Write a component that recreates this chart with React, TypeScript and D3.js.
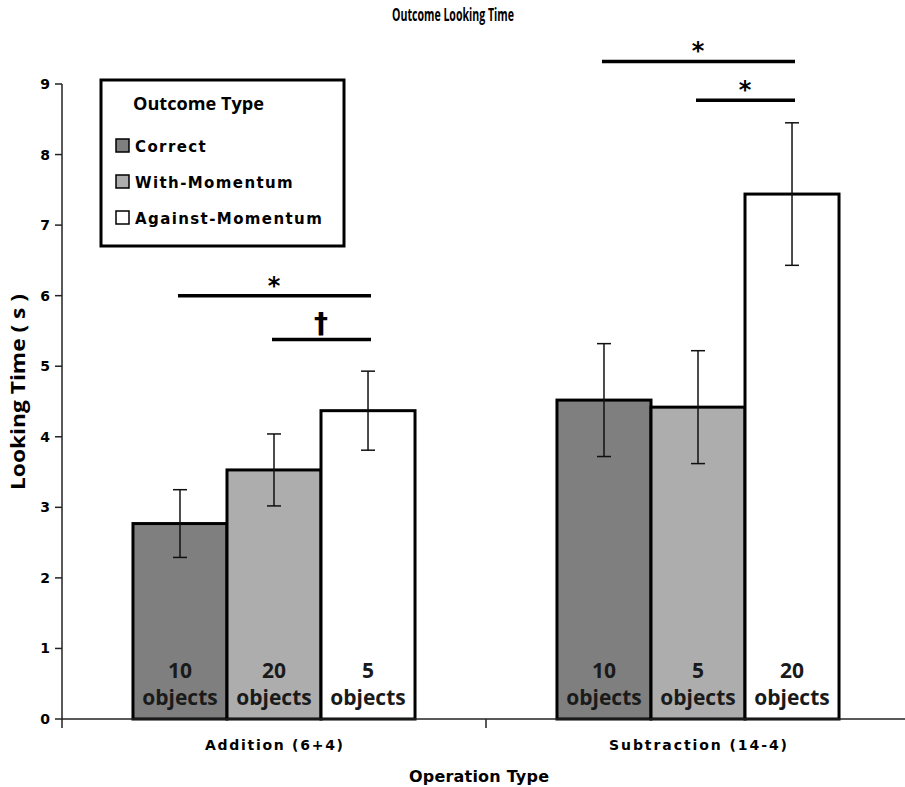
import { scaleBand, scaleLinear, range } from "d3";

const categories = ["Addition (6+4)", "Subtraction (14-4)"];
const outcomeTypes = ["Correct", "With-Momentum", "Against-Momentum"];

const correctMeans = [2.77, 4.52];
const correctErrors = [0.48, 0.8];
const withMeans = [3.53, 4.42];
const withErrors = [0.51, 0.8];
const againstMeans = [4.37, 7.44];
const againstErrors = [0.56, 1.01];

const correctObjects = ["10", "10"];
const withObjects = ["20", "5"];
const againstObjects = ["5", "20"];

const yTicks = [0, 1, 2, 3, 4, 5, 6, 7, 8, 9];

// significance brackets: category, from bar, to bar, height (s), mark
const sigCategory = [0, 0, 1, 1];
const sigFrom = [0, 1, 0, 1];
const sigTo = [2, 2, 2, 2];
const sigLevel = [6.0, 5.38, 9.32, 8.77];
const sigMark = ["*", "†", "*", "*"];

const fills = ["#7f7f7f", "#adadad", "#ffffff"];

const App = () => {
  const width = 905;
  const height = 787;
  const left = 62;
  const bottom = 719;
  const top = 84;

  const xGroup = scaleBand<string>().domain(categories).range([left, 910]);
  const xBar = scaleBand<string>()
    .domain(outcomeTypes)
    .range([0, xGroup.bandwidth()])
    .paddingOuter(0.755);
  const y = scaleLinear().domain([0, 9]).range([bottom, top]);

  const means = [correctMeans, withMeans, againstMeans];
  const errors = [correctErrors, withErrors, againstErrors];
  const objects = [correctObjects, withObjects, againstObjects];

  const bars = categories.flatMap((cat, ci) =>
    outcomeTypes.map((t, ti) => ({
      x: (xGroup(cat) as number) + (xBar(t) as number),
      w: xBar.bandwidth(),
      v: means[ti][ci],
      e: errors[ti][ci],
      n: objects[ti][ci],
      fill: fills[ti],
    }))
  );

  const barCenter = (ci: number, ti: number) =>
    (xGroup(categories[ci]) as number) +
    (xBar(outcomeTypes[ti]) as number) +
    xBar.bandwidth() / 2;

  const verdana = "'DejaVu Sans', Verdana, sans-serif";
  const myriad = "'Open Sans', 'Noto Sans', sans-serif";

  return (
    <svg width={width} height={height} style={{ display: "block", position: "absolute", left: 0, top: 0 }}>
      <rect width={width} height={height} fill="#fff" />
      <text
        x={453}
        y={21}
        textAnchor="middle"
        fontFamily={myriad}
        fontWeight="bold"
        fontSize={17}
        textLength={122}
        lengthAdjust="spacingAndGlyphs"
      >
        Outcome Looking Time
      </text>

      {/* bars */}
      {bars.map((b, i) => (
        <rect
          key={i}
          x={b.x}
          y={y(b.v)}
          width={b.w}
          height={bottom - y(b.v)}
          fill={b.fill}
          stroke="#000"
          strokeWidth={3}
        />
      ))}

      {/* object labels */}
      {bars.map((b, i) => (
        <text
          key={"n" + i}
          x={b.x + b.w / 2}
          y={678}
          fontFamily={myriad}
          fontWeight={700}
          fontSize={21}
          fill="#1a1a1a"
          textAnchor="middle"
        >
          <tspan x={b.x + b.w / 2}>{b.n}</tspan>
          <tspan x={b.x + b.w / 2} dy={27}>
            objects
          </tspan>
        </text>
      ))}

      {/* error bars */}
      {bars.map((b, i) => {
        const cx = b.x + b.w / 2;
        return (
          <g key={"e" + i} stroke="#111" strokeWidth={1.5}>
            <line x1={cx} x2={cx} y1={y(b.v + b.e)} y2={y(b.v - b.e)} />
            <line x1={cx - 7} x2={cx + 7} y1={y(b.v + b.e)} y2={y(b.v + b.e)} />
            <line x1={cx - 7} x2={cx + 7} y1={y(b.v - b.e)} y2={y(b.v - b.e)} />
          </g>
        );
      })}

      {/* axes */}
      <line x1={left} x2={left} y1={top} y2={bottom} stroke="#222" strokeWidth={1.5} />
      <line x1={left} x2={width} y1={bottom} y2={bottom} stroke="#222" strokeWidth={1.5} />
      {yTicks.map((t) => (
        <g key={t}>
          <line x1={left - 7} x2={left} y1={y(t)} y2={y(t)} stroke="#222" strokeWidth={1.5} />
          <text
            x={left - 12}
            y={y(t) + 5}
            textAnchor="end"
            fontFamily={verdana}
            fontWeight="bold"
            fontSize={14}
          >
            {t}
          </text>
        </g>
      ))}
      {range(categories.length + 1).map((i) => {
        const xx = i < categories.length ? (xGroup(categories[i]) as number) : 910;
        return <line key={i} x1={xx} x2={xx} y1={bottom} y2={bottom + 9} stroke="#222" strokeWidth={1.5} />;
      })}
      {categories.map((c, i) => (
        <text
          key={c}
          x={(xGroup(c) as number) + xGroup.bandwidth() / 2}
          y={750}
          textAnchor="middle"
          fontFamily={verdana}
          fontWeight="bold"
          fontSize={14}
          textLength={i === 0 ? 138 : 178}
          lengthAdjust="spacing"
        >
          {c}
        </text>
      ))}
      <text
        x={479}
        y={782}
        textAnchor="middle"
        fontFamily={verdana}
        fontWeight="bold"
        fontSize={16}
        textLength={140}
        lengthAdjust="spacing"
      >
        Operation Type
      </text>
      <text
        transform={`translate(25,${392}) rotate(-90)`}
        textAnchor="middle"
        fontFamily={myriad}
        fontWeight="bold"
        fontSize={20}
        textLength={196}
        lengthAdjust="spacingAndGlyphs"
      >
        Looking Time ( s )
      </text>

      {/* significance */}
      {sigMark.map((m, i) => {
        const x1 = barCenter(sigCategory[i], sigFrom[i]);
        const x2 = barCenter(sigCategory[i], sigTo[i]);
        const yy = y(sigLevel[i]);
        return (
          <g key={"s" + i}>
            <line x1={x1 - 2} x2={x2 + 3} y1={yy} y2={yy} stroke="#000" strokeWidth={3.5} />
            <text
              x={(x1 + x2) / 2}
              y={m === "*" ? yy - 2 : yy - 6}
              textAnchor="middle"
              fontFamily={verdana}
              fontWeight="bold"
              fontSize={m === "*" ? 24 : 28}
            >
              {m}
            </text>
          </g>
        );
      })}

      {/* legend */}
      <rect x={101} y={80} width={243} height={166} fill="#fff" stroke="#000" strokeWidth={3} />
      <text
        x={133}
        y={110}
        fontFamily={myriad}
        fontWeight="bold"
        fontSize={17}
        textLength={131}
        lengthAdjust="spacingAndGlyphs"
      >
        Outcome Type
      </text>
      {outcomeTypes.map((t, i) => (
        <g key={t}>
          <rect x={116} y={139 + i * 36} width={13} height={13} fill={fills[i]} stroke="#000" strokeWidth={1.5} />
          <text
            x={135}
            y={152 + i * 36}
            fontFamily={verdana}
            fontWeight="bold"
            fontSize={15}
            letterSpacing={1.4}
          >
            {t}
          </text>
        </g>
      ))}
    </svg>
  );
};

export default App;
